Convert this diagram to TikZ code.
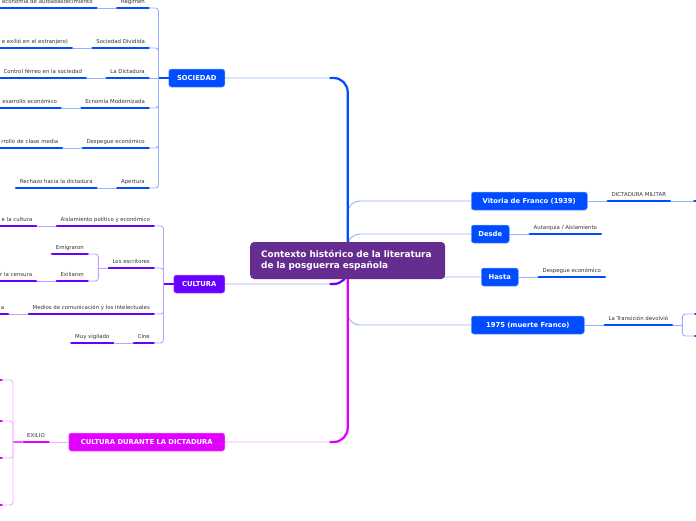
\documentclass[tikz,border=0pt]{standalone}
\usepackage{fontspec}
\setmainfont{DejaVu Sans}
\usetikzlibrary{positioning, backgrounds, calc}

\definecolor{socblue}{RGB}{0,76,255}
\definecolor{soclight}{RGB}{150,175,255}
\definecolor{culpurple}{RGB}{102,0,255}
\definecolor{cullight}{RGB}{188,162,255}
\definecolor{dicmag}{RGB}{225,0,255}
\definecolor{diclight}{RGB}{245,172,255}
\definecolor{titlepurple}{RGB}{102,45,145}
\definecolor{txtgray}{RGB}{51,51,51}

\newcommand{\mmsmall}{\fontsize{5.4}{6.2}\selectfont}
\newcommand{\mmbold}{\fontsize{6.8}{8}\selectfont\bfseries}

\begin{document}
\begin{tikzpicture}[
    x=1pt, y=-1pt,
    node distance=18pt,
    central/.style={rectangle, rounded corners=4pt, fill=titlepurple, text=white, font=\fontsize{8.9}{10.3}\selectfont\bfseries, minimum width=195pt, minimum height=37pt, text width=173pt, inner xsep=11pt, align=left},
    topic/.style={rectangle, rounded corners=2.5pt, minimum height=18pt, inner xsep=4pt, font=\mmbold, text=white, fill=#1, draw=#1!55!white, line width=0.5pt},
    sub/.style={font=\mmsmall, text=txtgray, inner xsep=5pt, inner ysep=3pt, text height=3.9pt, text depth=1pt},
    cut/.style={sub, text width=110pt, align=right},
    uline/.style={line width=2.6pt, line cap=round, shorten <=1.3pt, shorten >=1.3pt, draw=#1},
    twig/.style={line width=0.9pt, draw=#1},
    trunk/.style={line width=2.2pt, draw=#1},
]
\useasboundingbox (0,0) rectangle (696,520);

% === Central topic ===
\node (titulo) [central, anchor=west] at (250,260.5) {Contexto histórico de la literatura\\de la posguerra española};

% === Main topics ===
\node (sociedad) [topic=socblue, minimum width=56pt, anchor=east] at (225,78) {SOCIEDAD};
\node (cultura) [topic=culpurple, minimum width=51pt, anchor=east] at (225,284) {CULTURA};
\node (dictadura) [topic=dicmag, minimum width=156pt, anchor=east] at (225,442) {CULTURA DURANTE LA DICTADURA};
\node (vitoria) [topic=socblue, minimum width=116pt, anchor=west] at (471,201) {Vitoria de Franco (1939)};
\node (desde) [topic=socblue, minimum width=38pt, anchor=west] at (471,234) {Desde};
\node (hasta) [topic=socblue, minimum width=37pt, anchor=west] at (481,277) {Hasta};
\node (muerte) [topic=socblue, minimum width=113pt, anchor=west] at (471,325) {1975 (muerte Franco)};

% === SOCIEDAD subtopics ===
\node (reg) [sub, anchor=south east] at (150,8) {Régimen};
\node (div) [sub, anchor=south east] at (150,48) {Sociedad Dividida};
\node (dic) [sub, anchor=south east] at (150,78) {La Dictadura};
\node (eco) [sub, anchor=south east] at (150,108) {Ecnomía Modernizada};
\node (des) [sub, anchor=south east] at (150,148) {Despegue económico};
\node (ape) [sub, anchor=south east] at (150,188) {Apertura};

\node (reg1) [cut, left=of reg] {economía de autoabastecimiento};
\node (div1) [cut, left=of div] {e exilió en el extranjero)};
\node (dic1) [cut, left=of dic] {Control férreo en la sociedad};
\node (eco1) [cut, left=of eco] {esarrollo económico};
\node (des1) [cut, left=of des] {rrollo de clase media};
\node (ape1) [sub, left=of ape] {Rechazo hacia la dictadura};

% === CULTURA subtopics ===
\node (ais) [sub, anchor=south east] at (155,226) {Aislamiento político y económico};
\node (esc) [sub, anchor=south east] at (155,268) {Los escritores};
\node (med) [sub, anchor=south east] at (155,314) {Medios de comunicación y los intelectuales};
\node (cine) [sub, anchor=south east] at (155,343) {Cine};

\node (ais1) [cut, left=of ais] {e la cultura};
\node (emi) [sub, anchor=south east] at (89,254) {Emigraron};
\node (exi) [sub, anchor=south east] at (89,281) {Exiliaron};
\node (exi1) [cut, left=of exi] {r la censura};
\node (med1) [cut, left=of med] {a};
\node (cine1) [sub, left=of cine] {Muy vigilado};

% === DICTADURA subtopic ===
\node (exilio) [sub, anchor=south east] at (50,442) {EXILIO};

% === Right side subtopics ===
\node (dmil) [sub, right=19pt of vitoria.east, anchor=south west] {DICTADURA MILITAR};
\node (auta) [sub, right=19pt of desde.east, anchor=south west] {Autarquía / Aislamiento};
\node (despe) [sub, right=19pt of hasta.east, anchor=south west] {Despegue económico};
\node (trans) [sub, right=19pt of muerte.east, anchor=south west] {La Transición devolvió};

% brackets and cut-off children
\coordinate (sbr) at ([xshift=-10pt]sociedad.west);
\coordinate (cbr) at ([xshift=-10pt]cultura.west);
\coordinate (ebr) at ([xshift=-9pt]esc.south west);
\coordinate (xbr) at ([xshift=-9pt]exilio.south west);
\coordinate (tbr) at ([xshift=9pt]trans.south east);
\coordinate (dm1) at (693,201);
\coordinate (tr1) at (694,314);
\coordinate (tr2) at (694,336);
\foreach \y [count=\i] in {380,421,458,505}
    \coordinate (ex\i) at (3,\y);

% === Main branches ===
\begin{scope}[on background layer]
    \draw[twig=soclight, rounded corners=14pt] (titulo.center) |- (sociedad.east);
    \draw[twig=cullight, rounded corners=14pt] (titulo.center) |- (cultura.east);
    \draw[twig=diclight, rounded corners=14pt] (titulo.center) |- (dictadura.east);
    \foreach \n in {vitoria, desde, hasta, muerte}
        \draw[twig=soclight, rounded corners=12pt] (titulo.center) |- (\n.west);
    \draw[trunk=culpurple, rounded corners=14pt] (titulo.center) |- ([xshift=-18pt]titulo.center |- cultura.east);
    \draw[trunk=dicmag, rounded corners=14pt] (titulo.center) |- ([xshift=-18pt]titulo.center |- dictadura.east);
    \draw[trunk=socblue, rounded corners=14pt] (titulo.center) |- ([xshift=-18pt]titulo.center |- sociedad.east);
\end{scope}

% SOCIEDAD
\draw[trunk=socblue, line width=1.6pt] (sociedad.west) -- (sbr);
\foreach \n in {reg, div, eco, des, ape}
    \draw[twig=soclight, rounded corners=3pt] (sbr) |- (\n.south east);
\draw[twig=soclight] (sbr) -- (dic.south east);
\foreach \n in {reg, div, dic, eco, des, ape}
    \draw[twig=soclight] (\n1.south east) -- (\n.south west);

% CULTURA
\draw[trunk=culpurple, line width=1.6pt] (cultura.west) -- (cbr);
\foreach \n in {ais, esc, med, cine}
    \draw[twig=cullight, rounded corners=3pt] (cbr) |- (\n.south east);
\foreach \n in {ais, exi, med, cine}
    \draw[twig=cullight] (\n1.south east) -- (\n.south west);
\draw[twig=cullight] (esc.south west) -- (ebr);
\foreach \n in {emi, exi}
    \draw[twig=cullight, rounded corners=3pt] (ebr) |- (\n.south east);

% DICTADURA
\draw[twig=diclight] (exilio.south east) -- (dictadura.west);
\draw[trunk=dicmag!70!white, line width=1.4pt] (exilio.south west) -- (xbr);
\foreach \i in {1,...,4} {
    \draw[twig=diclight, rounded corners=3pt] (xbr) |- (ex\i);
    \draw[uline=dicmag] (ex\i) -- ++(-8,0);
}

% Right side
\draw[twig=soclight] (vitoria.east) -- (dmil.south west);
\draw[twig=soclight] (desde.east) -- (auta.south west);
\draw[twig=soclight] (hasta.east) -- (despe.south west);
\draw[twig=soclight] (muerte.east) -- (trans.south west);
\draw[twig=soclight] (dmil.south east) -- (dm1);
\draw[uline=socblue] (dm1) -- ++(8,0);
\draw[twig=soclight] (trans.south east) -- (tbr);
\foreach \n in {tr1, tr2} {
    \draw[twig=soclight, rounded corners=3pt] (tbr) |- (\n);
    \draw[uline=socblue] (\n) -- ++(8,0);
}

% === Underlines ===
\foreach \n in {reg, div, dic, eco, des, ape, reg1, div1, dic1, eco1, des1, ape1, dmil, auta, despe, trans}
    \draw[uline=socblue] (\n.south west) -- (\n.south east);
\foreach \n in {ais, esc, med, cine, ais1, emi, exi, exi1, med1, cine1}
    \draw[uline=culpurple] (\n.south west) -- (\n.south east);
\draw[uline=dicmag] (exilio.south west) -- (exilio.south east);

\end{tikzpicture}
\end{document}
